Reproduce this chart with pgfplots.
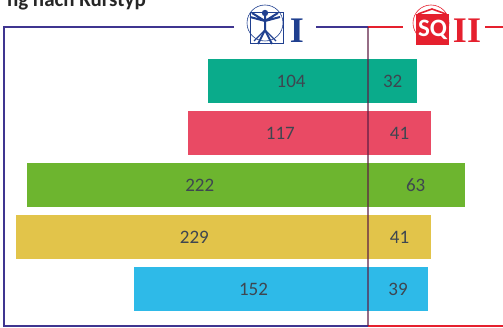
\documentclass[border=0pt]{standalone}
\usepackage{pgfplots}
\pgfplotsset{compat=1.18}
\usepackage{fontspec}
\setmainfont{Carlito}
\newfontfamily\serifb{Liberation Serif}
\definecolor{cteal}{HTML}{0AAB8B}
\definecolor{cred}{HTML}{E94A64}
\definecolor{cgreen}{HTML}{6DB52F}
\definecolor{cyellow}{HTML}{E2C44A}
\definecolor{cblue}{HTML}{2EBAE8}
\definecolor{cpurple}{HTML}{3F3590}
\definecolor{cline}{HTML}{E5202E}
\definecolor{cnavy}{HTML}{1F3F8F}
\definecolor{ctext}{HTML}{3E4650}
\begin{document}
\begin{tikzpicture}[x=1pt,y=1pt]
\clip (0,0) rectangle (503,327);
\begin{axis}[at={(0,0)},anchor=south west,scale only axis,width=503pt,height=327pt,
  hide axis,xmin=-239.4,xmax=87.8,ymin=0.269,ymax=6.558,clip=false]
\pgfplotsset{every axis plot/.append style={xbar,bar width=44pt,bar shift=0pt,draw=none}}
\addplot[fill=cteal] coordinates {(-104,5)};
\addplot[fill=cteal] coordinates {(32,5)};
\addplot[fill=cred] coordinates {(-117,4)};
\addplot[fill=cred] coordinates {(41,4)};
\addplot[fill=cgreen] coordinates {(-222,3)};
\addplot[fill=cgreen] coordinates {(63,3)};
\addplot[fill=cyellow] coordinates {(-229,2)};
\addplot[fill=cyellow] coordinates {(41,2)};
\addplot[fill=cblue] coordinates {(-152,1)};
\addplot[fill=cblue] coordinates {(39,1)};
\addplot[only marks,mark=none,xbar=0pt,draw=none,fill=none,forget plot,point meta=explicit symbolic,
  nodes near coords,nodes near coords style={anchor=center,text=ctext,font=\fontsize{19}{19}\selectfont,inner sep=0pt}]
  table[x=x,y=y,meta=l] {
x y l
-50 5 104
16 5 32
-57 4 117
20.5 4 41
-109.5 3 222
31 3 63
-113 2 229
20.5 2 41
-74.5 1 152
19.5 1 39
};
\end{axis}
\begin{scope}[y=-1pt,shift={(0pt,327pt)}]
% title
\node[anchor=base east,inner sep=0pt,font=\bfseries\fontsize{21}{21}\selectfont,text=black!85] at (146,6.5) {ng nach Kurstyp};
% frames
\draw[cpurple,line width=1.4pt,line join=miter] (234,27) -- (3.8,27) -- (3.8,326) -- (368,326);
\draw[cpurple,line width=1.4pt] (316,27) -- (368,27);
\draw[cline,line width=1.4pt] (368,27) -- (403,27);
\draw[cline,line width=1.4pt] (485,27) -- (503,27);
\draw[cline,line width=1.4pt] (368,326) -- (503,326);
\draw[black!45!cpurple!70!cline,opacity=.65,line width=1.6pt] (368,27) -- (368,326);
% logo I
\draw[cnavy,line width=.6pt] (265,23) circle (18);
\draw[cnavy,line width=1pt] (250,13) rectangle (283,44);
\draw[cnavy,line width=2pt] (250,17) -- (265,21) -- (280,17) (252,13) -- (265,21) -- (278,13)
  (265,16) -- (265,30) -- (258,44) (265,30) -- (272,44);
\draw[cnavy,line width=1.4pt] (265,30) -- (254,41) (265,30) -- (276,41);
\fill[cnavy] (265,13) circle (3.2);
\node[anchor=center,inner sep=0pt,text=cnavy,font=\serifb\bfseries\fontsize{36}{36}\selectfont] at (297,31) {I};
% logo II
\draw[cline,line width=.6pt] (431,23) circle (18);
\fill[cline] (416,14) rectangle (449,45);
\draw[cline,line width=1.6pt] (418,14) -- (432,9) -- (446,14);
\node[anchor=center,inner sep=0pt,text=white,font=\bfseries\fontsize{25}{25}\selectfont] at (432.5,30) {SQ};
\node[anchor=center,inner sep=0pt,text=cline,font=\serifb\bfseries\fontsize{36}{36}\selectfont] at (467,31) {II};
\end{scope}
\end{tikzpicture}
\end{document}
